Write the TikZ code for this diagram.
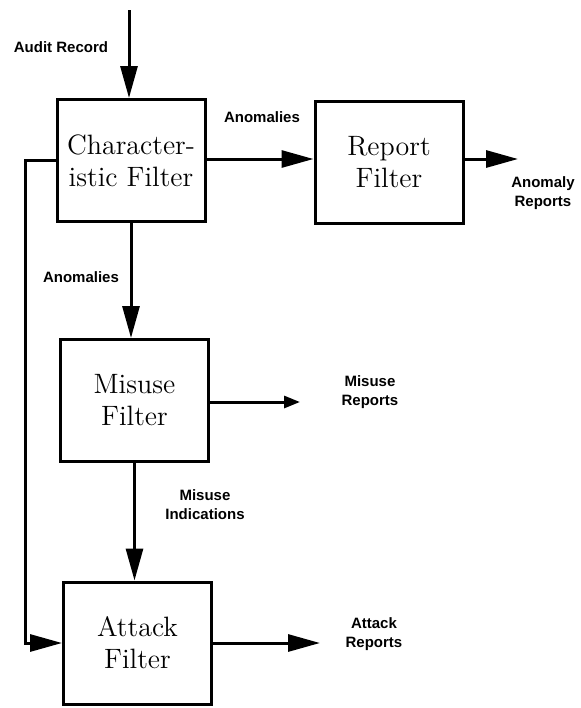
\documentclass[tikz,border=0pt]{standalone}
\usepackage{fontspec}
\newfontfamily\lblfont{Liberation Sans}
\usetikzlibrary{arrows.meta}
\tikzset{
  filter/.style={draw, line width=1.5pt, minimum width=74pt, minimum height=61pt,
    align=center, inner sep=2pt, font=\fontsize{14}{16}\selectfont},
  lbl/.style={align=center, inner sep=0pt, font=\lblfont\bfseries\fontsize{7.5}{9.5}\selectfont},
  flow/.style={line width=1.5pt, ->},
  small/.style={line width=1.5pt, -{Triangle[length=8pt,width=6pt]}}
}
\begin{document}
\begin{tikzpicture}[x=0.5pt, y=-0.5pt, >={Triangle[length=16pt,width=8.5pt]}]
    \useasboundingbox (0,0) rectangle (580,708);
    \node[filter] (C) at (131,160.5) {Character-\\istic Filter};
    \node[filter] (R) at (389,162) {Report\\Filter};
    \node[filter] (M) at (134.5,400.5) {Misuse\\Filter};
    \node[filter] (A) at (137.5,643) {Attack\\Filter};
    \coordinate (in) at (129,10);
    \coordinate (rout) at (518,159);
    \coordinate (mout) at (300,402);
    \coordinate (aout) at (320,643);
    \coordinate (lft) at (25,0);
    \node[lbl] (audit) at (61,47) {Audit Record};
    \node[lbl] (anom1) at (262,117) {Anomalies};
    \node[lbl] (anrep) at (543,193) {Anomaly\\Reports};
    \node[lbl] (anom2) at (81,277) {Anomalies};
    \node[lbl] (mrep) at (370,392) {Misuse\\Reports};
    \node[lbl] (mind) at (205,505) {Misuse\\Indications};
    \node[lbl] (arep) at (374,634) {Attack\\Reports};
    \draw[flow] (in) -- (in |- C.north);
    \draw[flow] (C.east |- rout) -- (R.west |- rout);
    \draw[flow] (R.east |- rout) -- (rout);
    \draw[flow] (C.south) -- (C.south |- M.north);
    \draw[small] (M.east |- mout) -- (mout);
    \draw[flow] (M.south) -- (M.south |- A.north);
    \draw[flow] (A.east) -- (aout);
    \draw[flow] (C.west) -- (C.west -| lft) |- (A.west);
\end{tikzpicture}
\end{document}
